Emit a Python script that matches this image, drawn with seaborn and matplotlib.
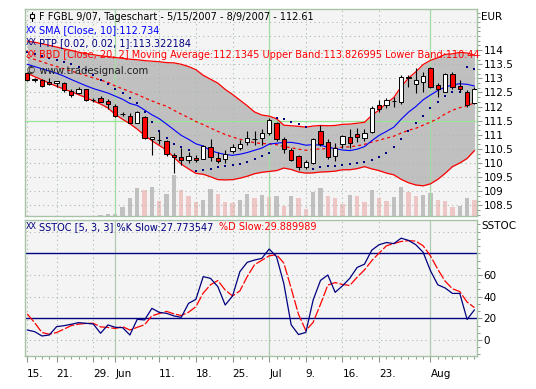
import numpy as np
import pandas as pd
import matplotlib
matplotlib.use("Agg")
import matplotlib.pyplot as plt
import seaborn as sns
from matplotlib.ticker import MultipleLocator, FixedLocator
from matplotlib.patches import Rectangle
from matplotlib.lines import Line2D

# ---- data ----
opens = [113.20, 112.96, 112.94, 112.88, 112.83, 112.82, 112.55, 112.48, 112.62, 112.23,
         112.29, 112.21, 112.02, 111.73, 111.67, 111.41, 111.64, 110.84, 110.81, 110.78,
         110.29, 110.22, 110.11, 110.18, 110.15, 110.58, 110.19, 110.13, 110.42, 110.52,
         110.74, 110.85, 110.87, 111.05, 111.42, 110.85, 110.45, 110.25, 109.87, 109.99,
         111.12, 110.73, 110.26, 110.66, 110.93, 111.02, 110.87, 111.11, 112.04, 112.06,
         112.19, 112.17, 113.05, 112.80, 112.88, 113.36, 112.76, 112.53, 113.16, 112.73,
         112.53, 112.12]
highs = [113.24, 113.02, 112.97, 113.02, 112.92, 112.88, 112.63, 112.70, 112.64, 112.32,
         112.38, 112.27, 112.09, 111.80, 111.76, 111.86, 111.67, 110.93, 111.12, 110.81,
         110.37, 110.52, 110.40, 110.28, 110.64, 110.84, 110.40, 110.46, 110.67, 110.81,
         111.15, 111.12, 111.19, 111.58, 111.47, 110.93, 110.52, 110.30, 110.10, 110.87,
         111.35, 110.86, 110.70, 110.99, 111.19, 111.23, 111.19, 112.02, 112.23, 112.29,
         112.35, 113.12, 113.12, 113.36, 113.24, 113.39, 112.85, 113.20, 113.24, 112.94,
         112.59, 112.70]
lows = [112.90, 112.88, 112.70, 112.78, 112.70, 112.53, 112.33, 112.46, 112.21, 112.16,
        112.15, 111.90, 111.62, 111.67, 111.41, 111.40, 110.84, 110.30, 110.67, 110.26,
        109.66, 109.93, 109.99, 110.05, 110.13, 110.07, 109.99, 109.99, 110.34, 110.46,
        110.62, 110.62, 110.64, 110.99, 110.78, 110.34, 110.08, 109.76, 109.77, 109.97,
        110.60, 110.15, 110.08, 110.52, 110.52, 110.76, 110.78, 111.05, 111.82, 111.94,
        112.00, 112.09, 112.71, 112.47, 112.53, 112.65, 112.35, 112.51, 112.61, 112.53,
        111.97, 112.10]
closes = [112.94, 112.97, 112.73, 112.80, 112.90, 112.58, 112.41, 112.62, 112.23, 112.22,
          112.17, 112.09, 111.67, 111.72, 111.43, 111.79, 110.87, 110.91, 110.82, 110.33,
          110.20, 110.09, 110.25, 110.11, 110.61, 110.20, 110.06, 110.32, 110.55, 110.66,
          110.88, 110.86, 111.06, 111.52, 110.85, 110.49, 110.12, 109.86, 110.03, 110.85,
          110.66, 110.20, 110.52, 110.97, 110.72, 110.93, 111.05, 111.94, 111.93, 112.23,
          112.20, 113.04, 113.03, 112.94, 113.10, 112.68, 112.61, 113.16, 112.68, 112.61,
          112.06, 112.61]
volume = [0, 0, 0, 0, 0, 0, 0, 0, 0, 0,
          10, 25, 25, 130, 265, 415, 385, 435, 220, 325,
          610, 385, 295, 205, 235, 400, 330, 205, 200, 235,
          325, 265, 310, 280, 295, 145, 295, 265, 100, 355,
          415, 295, 265, 175, 310, 305, 205, 385, 265, 220,
          280, 430, 355, 295, 310, 340, 235, 220, 140, 150,
          265, 235]
sma10 = [113.50, 113.42, 113.34, 113.26, 113.18, 113.08, 112.96, 112.85, 112.74, 112.64,
         112.56, 112.48, 112.37, 112.26, 112.11, 112.04, 111.88, 111.71, 111.57, 111.38,
         111.18, 110.98, 110.84, 110.68, 110.60, 110.44, 110.36, 110.30, 110.27, 110.31,
         110.37, 110.45, 110.53, 110.67, 110.70, 110.73, 110.73, 110.69, 110.63, 110.65,
         110.63, 110.56, 110.51, 110.46, 110.44, 110.49, 110.58, 110.79, 110.98, 111.12,
         111.27, 111.55, 111.80, 112.00, 112.24, 112.41, 112.57, 112.69, 112.77, 112.81,
         112.79, 112.73]
bb_upper = [114.32, 114.28, 114.23, 114.17, 114.11, 114.05, 113.99, 113.93, 113.88, 113.84,
            113.80, 113.77, 113.74, 113.71, 113.68, 113.66, 113.63, 113.61, 113.59, 113.56,
            113.55, 113.50, 113.42, 113.31, 113.11, 112.97, 112.83, 112.61, 112.43, 112.23,
            112.03, 111.81, 111.70, 111.66, 111.57, 111.34, 111.32, 111.30, 111.27, 111.31,
            111.33, 111.32, 111.33, 111.37, 111.38, 111.41, 111.44, 111.69, 111.88, 112.12,
            112.32, 112.70, 113.01, 113.23, 113.49, 113.64, 113.73, 113.85, 113.87, 113.92,
            113.90, 113.83]
bb_mid = [113.75, 113.67, 113.59, 113.50, 113.42, 113.34, 113.26, 113.18, 113.10, 113.02,
          112.94, 112.86, 112.73, 112.63, 112.53, 112.43, 112.31, 112.20, 112.10, 112.01,
          111.87, 111.73, 111.61, 111.47, 111.36, 111.24, 111.12, 111.01, 110.92, 110.84,
          110.78, 110.72, 110.69, 110.68, 110.65, 110.58, 110.54, 110.49, 110.45, 110.48,
          110.50, 110.51, 110.52, 110.56, 110.57, 110.61, 110.66, 110.74, 110.81, 110.88,
          110.95, 111.06, 111.16, 111.23, 111.34, 111.45, 111.57, 111.74, 111.87, 111.96,
          112.03, 112.13]
bb_lower = [113.18, 113.06, 112.95, 112.83, 112.72, 112.62, 112.53, 112.42, 112.32, 112.20,
            112.09, 111.95, 111.72, 111.55, 111.39, 111.20, 110.98, 110.79, 110.62, 110.46,
            110.20, 109.96, 109.79, 109.63, 109.60, 109.51, 109.41, 109.40, 109.41, 109.46,
            109.53, 109.62, 109.67, 109.70, 109.73, 109.82, 109.77, 109.68, 109.64, 109.65,
            109.68, 109.69, 109.71, 109.76, 109.76, 109.80, 109.87, 109.79, 109.73, 109.64,
            109.58, 109.42, 109.30, 109.22, 109.19, 109.26, 109.42, 109.63, 109.87, 110.00,
            110.16, 110.44]
ptp = [113.95, 113.88, 113.80, 113.72, 113.65, 113.58, 113.50, 113.40, 113.28, 113.12,
       112.95, 112.80, 112.64, 112.47, 112.30, 112.12, 111.80, 111.45, 111.15, 110.88,
       110.66, 110.56, 110.45, 109.70, 109.76, 109.80, 109.84, 109.88, 109.93, 109.98,
       110.05, 110.13, 110.23, 110.36, 111.58, 111.55, 111.46, 111.37, 111.27, 109.80,
       109.84, 109.88, 109.91, 109.93, 109.96, 109.99, 110.02, 110.10, 110.22, 110.37,
       110.57, 110.85, 111.12, 111.42, 111.68, 111.94, 112.17, 112.36, 112.50, 112.53,
       113.39, 113.32]
stoch_k = [9.2, 7.7, 3.7, 4.6, 12.3, 13.2, 14.5, 16.0, 15.4, 14.8,
           6.2, 13.9, 11.7, 11.4, 4.6, 19.1, 18.5, 29.2, 25.5, 24.6,
           22.2, 20.9, 33.8, 37.5, 58.5, 56.9, 49.2, 32.3, 40.6, 63.1,
           71.7, 73.8, 75.4, 84.0, 77.0, 52.0, 14.0, 5.0, 7.0, 37.0,
           55.0, 60.0, 44.0, 50.0, 57.0, 67.0, 70.0, 83.0, 88.0, 90.0,
           89.0, 94.0, 92.0, 88.0, 81.0, 64.0, 51.0, 48.0, 43.0, 43.0,
           19.0, 27.8]
stoch_d = [24.0, 16.0, 6.9, 5.3, 6.9, 10.0, 13.3, 14.6, 15.3, 15.4,
           12.1, 11.6, 10.6, 12.3, 9.2, 11.7, 14.1, 22.3, 24.4, 26.4,
           24.1, 22.6, 25.6, 30.7, 43.3, 51.0, 54.9, 46.1, 40.7, 45.3,
           58.5, 69.5, 73.6, 77.7, 78.8, 71.0, 47.7, 23.7, 8.7, 16.3,
           33.0, 50.7, 53.0, 51.3, 50.3, 58.0, 64.7, 73.3, 80.3, 87.0,
           89.0, 91.0, 91.7, 91.3, 87.0, 77.7, 65.3, 54.3, 47.3, 44.7,
           35.0, 29.9]

tick_dates = ["2007-05-15", "2007-05-21", "2007-05-29", "2007-06-01", "2007-06-11", "2007-06-18",
              "2007-06-25", "2007-07-02", "2007-07-09", "2007-07-16", "2007-07-23", "2007-08-01"]
tick_labels = ["15.", "21.", "29.", "Jun", "11.", "18.", "25.", "Jul", "9.", "16.", "23.", "Aug"]
month_starts = ["2007-06-01", "2007-07-02", "2007-08-01"]

# trading days (Whit Monday closed)
dates = pd.bdate_range("2007-05-15", "2007-08-09").drop(pd.Timestamp("2007-05-28"))
df = pd.DataFrame({"date": dates, "open": opens, "high": highs, "low": lows, "close": closes,
                   "volume": volume, "sma": sma10, "upper": bb_upper, "mid": bb_mid,
                   "lower": bb_lower, "ptp": ptp, "k": stoch_k, "d": stoch_d})
df["idx"] = np.arange(len(df))
pos = {d: i for i, d in enumerate(df["date"])}
tick_idx = [pos[pd.Timestamp(d)] for d in tick_dates]
month_idx = [pos[pd.Timestamp(d)] for d in month_starts]

# ---- style ----
sns.set_theme(style="white")
plt.rcParams["font.family"] = ["DejaVu Sans"]

W, H = 536, 389
BG = "#f4f4f4"
BORDER = "#a8c2a8"
DOT = "#a8bca8"
GREEN = "#a2dca2"
NAVY = "#000080"
TICK = "#8a9a8a"

fig = plt.figure(figsize=(W / 100, H / 100), dpi=100)
fig.patch.set_facecolor("white")


def fx(x):
    return x / W


def fy(y):
    return 1 - y / H


# ---- price panel ----
ax = fig.add_axes([fx(25), fy(216), 452 / W, 207 / H])
axv = ax.twinx()
ax.set_zorder(2)
axv.set_zorder(1)
ax.patch.set_visible(False)
axv.patch.set_visible(True)
axv.patch.set_facecolor(BG)

# volume: grey when up on the day before, pink when down
vol_col = ["#c0c0c0" if i == 0 or df.volume[i] >= df.volume[i - 1] else "#efc6c6"
           for i in range(len(df))]
axv.bar(df.idx, df.volume, width=0.58, color=vol_col, linewidth=0)
axv.set_ylim(0, 3105)
axv.set_yticks([])
for s in axv.spines.values():
    s.set_visible(False)

# bollinger fill
ax.fill_between(df.idx, df.lower, df.upper, color="#c0c0c0", linewidth=0, zorder=1)

# grid
for v in np.arange(108.5, 115.01, 0.5):
    if abs(v - 111.5) > 1e-6:
        ax.axhline(v, color=DOT, lw=0.8, ls=(0, (1, 3)), zorder=1.5)
for i in tick_idx:
    if i not in month_idx:
        ax.axvline(i, color=DOT, lw=0.8, ls=(0, (1, 3)), zorder=1.5)
for i in month_idx:
    ax.axvline(i, color=GREEN, lw=0.9, zorder=1.6)
ax.axhline(111.5, color="#96e696", lw=0.9, zorder=1.6)

# indicator lines
sns.lineplot(data=df, x="idx", y="upper", ax=ax, color="red", linewidth=0.9, zorder=3)
sns.lineplot(data=df, x="idx", y="lower", ax=ax, color="red", linewidth=0.9, zorder=3)
sns.lineplot(data=df, x="idx", y="mid", ax=ax, color="red", linewidth=0.9, zorder=3)
ax.lines[-1].set_linestyle((0, (2.4, 2.4)))
sns.lineplot(data=df, x="idx", y="sma", ax=ax, color="blue", linewidth=0.8, zorder=3.2)
sns.scatterplot(data=df, x="idx", y="ptp", ax=ax, color=NAVY, marker="s", s=3,
                linewidth=0, zorder=3.5)

# candles
ax.vlines(df.idx, df.low, df.high, color="black", lw=0.8, zorder=4)
body_low = np.minimum(df.open, df.close)
body_h = np.maximum(np.abs(df.close - df.open), 0.012)
body_col = np.where(df.close < df.open, "red", "white")
ax.bar(df.idx, body_h, bottom=body_low, width=0.6, color=body_col,
       edgecolor="black", linewidth=0.7, zorder=5)

ax.set_xlim(-0.31, 61.35)
ax.set_ylim(108.12, 115.46)
ax.set_xlabel("")
ax.set_ylabel("")
ax.tick_params(axis="x", bottom=False, labelbottom=False)
ax.yaxis.tick_right()
ax.yaxis.set_major_locator(FixedLocator(np.arange(108.5, 114.01, 0.5)))
ax.yaxis.set_minor_locator(MultipleLocator(1 / 6))
ax.set_yticklabels([f"{v:g}" for v in np.arange(108.5, 114.01, 0.5)])
ax.tick_params(axis="y", which="major", right=True, left=False, length=3.5, width=0.8,
               color=TICK, labelsize=7.5, labelcolor="black", pad=1.2, direction="out")
ax.tick_params(axis="y", which="minor", right=True, left=False, length=1.8, width=0.7,
               color=TICK, direction="out")
for s in ax.spines.values():
    s.set_color(BORDER)
    s.set_linewidth(1.0)

# ---- stochastic panel ----
ax2 = fig.add_axes([fx(25), fy(356), 452 / W, 136 / H])
ax2.set_facecolor(BG)
for v in [0, 40, 60, 100]:
    ax2.axhline(v, color=DOT, lw=0.8, ls=(0, (1, 3)), zorder=1)
for i in tick_idx:
    if i not in month_idx:
        ax2.axvline(i, color=DOT, lw=0.8, ls=(0, (1, 3)), zorder=1)
for i in month_idx:
    ax2.axvline(i, color="#b0ccb0", lw=0.9, zorder=1.2)
ax2.axhline(20, color=NAVY, lw=1.0, zorder=2)
ax2.axhline(80, color=NAVY, lw=1.0, zorder=2)
sns.lineplot(data=df, x="idx", y="d", ax=ax2, color="red", linewidth=0.9, zorder=3)
ax2.lines[-1].set_linestyle((0, (8, 1.6)))
sns.lineplot(data=df, x="idx", y="k", ax=ax2, color=NAVY, linewidth=0.9, zorder=3.2)

ax2.set_xlim(-0.31, 61.35)
ax2.set_ylim(-14.8, 110.8)
ax2.set_xlabel("")
ax2.set_ylabel("")
ax2.set_xticks(tick_idx)
ax2.set_xticklabels(tick_labels, ha="left")
ax2.xaxis.set_minor_locator(FixedLocator(df.idx))
ax2.tick_params(axis="x", which="major", bottom=True, length=4.5, width=0.8, color=TICK,
                labelsize=7.5, labelcolor="black", pad=5, direction="out")
ax2.tick_params(axis="x", which="minor", bottom=True, length=2.2, width=0.7, color=TICK,
                direction="out")
ax2.yaxis.tick_right()
ax2.set_yticks([0, 20, 40, 60])
ax2.set_yticklabels(["0", "20", "40", "60"])
ax2.yaxis.set_minor_locator(MultipleLocator(20 / 3))
ax2.tick_params(axis="y", which="major", right=True, left=False, length=3.5, width=0.8,
                color=TICK, labelsize=7.5, labelcolor="black", pad=1.2, direction="out")
ax2.tick_params(axis="y", which="minor", right=True, left=False, length=1.8, width=0.7,
                color=TICK, direction="out")
for s in ax2.spines.values():
    s.set_color(BORDER)
    s.set_linewidth(1.0)

# ---- overlay texts ----
fs = 7
# candle icon
fig.add_artist(Line2D([fx(31.5), fx(31.5)], [fy(11.5), fy(21)], color="black", lw=0.8))
fig.add_artist(Rectangle((fx(29.5), fy(18)), fx(4), 4 / H, facecolor="white",
                         edgecolor="black", lw=0.8, zorder=6))
fig.text(fx(39), fy(16.5), "F FGBL 9/07, Tageschart - 5/15/2007 - 8/9/2007 - 112.61",
         fontsize=fs, color="black", va="center", ha="left", zorder=7)
legend_rows = [
    (30.5, "blue", "SMA [Close, 10]:112.734"),
    (42.6, NAVY, "PTP [0.02, 0.02, 1]:113.322184"),
    (54.7, "red", "BBD [Close, 20, 2] Moving Average:112.1345 Upper Band:113.826995 Lower Band:110.44"),
]
for y, c, t in legend_rows:
    fig.text(fx(25.5), fy(y), "XX", fontsize=5.8, color=c, va="center", ha="left", zorder=7)
    fig.text(fx(39), fy(y), t, fontsize=fs, color=c, va="center", ha="left", zorder=7)
fig.text(fx(25.5), fy(70.8), "\u00a9 www.tradesignal.com", fontsize=7.3, color="#202020",
         va="center", ha="left", zorder=7)
fig.text(fx(481), fy(16.7), "EUR", fontsize=7.5, color="black", va="center", ha="left")

fig.text(fx(25.5), fy(226.7), "XX", fontsize=5.8, color=NAVY, va="center", ha="left", zorder=7)
fig.text(fx(39), fy(226.7), "SSTOC [5, 3, 3] %K Slow:27.773547", fontsize=fs, color=NAVY,
         va="center", ha="left", zorder=7)
fig.text(fx(219.3), fy(226.7), "%D Slow:29.889989", fontsize=fs, color="red",
         va="center", ha="left", zorder=7)
fig.text(fx(481), fy(226.3), "SSTOC", fontsize=7.5, color="black", va="center", ha="left")

fig.savefig("out.png", dpi=100)
